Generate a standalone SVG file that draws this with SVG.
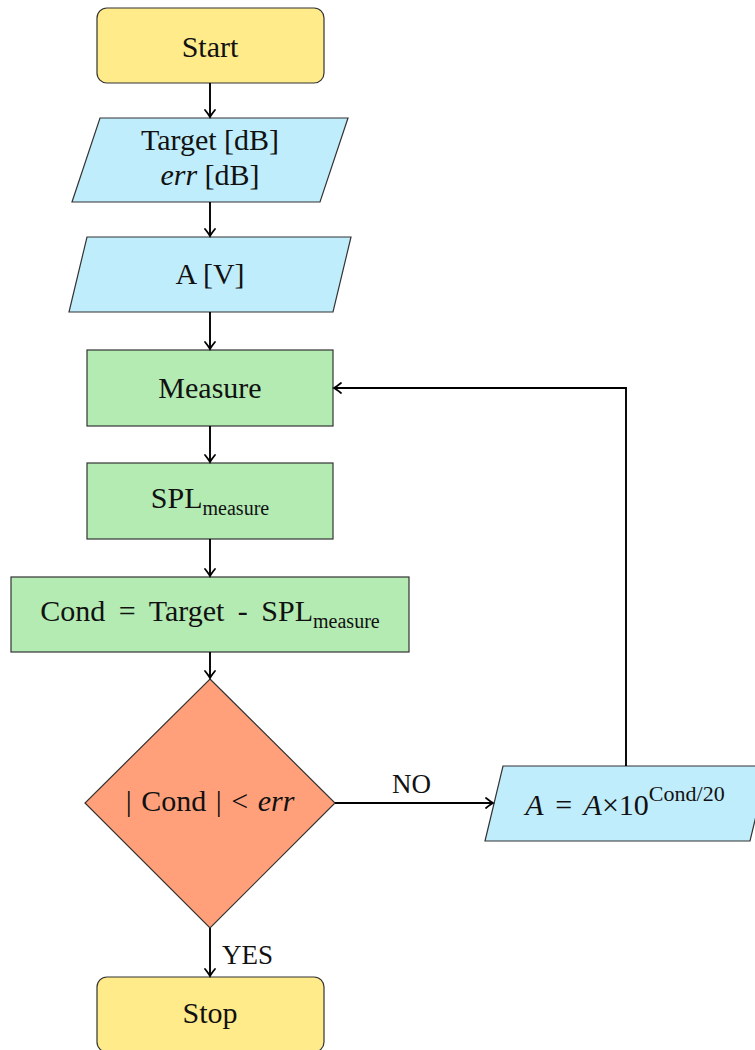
<svg xmlns="http://www.w3.org/2000/svg" width="755" height="1050" viewBox="0 0 755 1050">
<style>
.node{stroke:#333;stroke-width:1.2}
.term{fill:#FFEB8A}
.io{fill:#C0EDFC}
.proc{fill:#B3EBB3}
.dec{fill:#FFA07A}
text{font-family:"Liberation Serif","Times New Roman",serif;font-size:30px;fill:#111;text-anchor:middle}
.sub{font-size:20px}
.lbl{font-size:27px;text-anchor:start}
.conn{fill:none;stroke:#000;stroke-width:1.9;marker-end:url(#arr)}
</style>
<defs>
<marker id="arr" markerUnits="userSpaceOnUse" markerWidth="14" markerHeight="14" viewBox="-10 -7 12 14" refX="0" refY="0" orient="auto">
<path d="M-7,-5 Q-2,-1 0,0 Q-2,1 -7,5" fill="none" stroke="#000" stroke-width="1.8" stroke-linecap="round"/>
</marker>
</defs>
<rect width="755" height="1050" fill="#fff"/>
<g id="start">
<rect class="node term" x="97" y="8" width="227" height="75" rx="10"/>
<text x="210" y="57">Start</text>
</g>
<g id="input1">
<polygon class="node io" points="100,118 348,118 320,202 72,202"/>
<text x="210" y="150">Target [dB]</text>
<text x="210" y="185"><tspan font-style="italic">err</tspan> [dB]</text>
</g>
<g id="input2">
<polygon class="node io" points="87,237 351,237 333,312 69,312"/>
<text x="210" y="284">A [V]</text>
</g>
<g id="measure">
<rect class="node proc" x="87" y="350" width="246" height="76"/>
<text x="210" y="398">Measure</text>
</g>
<g id="spl">
<rect class="node proc" x="87" y="463" width="246" height="76"/>
<text x="210" y="508">SPL<tspan class="sub" dy="7">measure</tspan></text>
</g>
<g id="cond">
<rect class="node proc" x="11" y="577" width="398" height="75"/>
<text x="210" y="621" word-spacing="6">Cond = Target - SPL<tspan class="sub" dy="7">measure</tspan></text>
</g>
<g id="decision">
<polygon class="node dec" points="210,679 335,803 210,928 85,803"/>
<text x="210" y="811" word-spacing="2">| Cond | &lt; <tspan font-style="italic">err</tspan></text>
</g>
<g id="update">
<polygon class="node io" points="503,766 768,766 750,841 485,841"/>
<text x="625" y="815" font-size="33" word-spacing="4"><tspan font-style="italic">A</tspan> = <tspan font-style="italic">A</tspan>×10<tspan font-size="22" dy="-14">Cond/20</tspan></text>
</g>
<g id="stop">
<rect class="node term" x="97" y="977" width="227" height="75" rx="10"/>
<text x="210" y="1023">Stop</text>
</g>
<g id="connectors">
<path class="conn" d="M210,83 V117"/>
<path class="conn" d="M210,202 V236"/>
<path class="conn" d="M210,312 V349"/>
<path class="conn" d="M210,426 V462"/>
<path class="conn" d="M210,539 V576"/>
<path class="conn" d="M210,652 V678"/>
<path class="conn" d="M210,928 V976"/>
<path class="conn" d="M335,803 H493"/>
<path class="conn" d="M626,766 V388 H334"/>
<text class="lbl" x="222" y="964">YES</text>
<text class="lbl" x="392" y="793">NO</text>
</g>
</svg>
